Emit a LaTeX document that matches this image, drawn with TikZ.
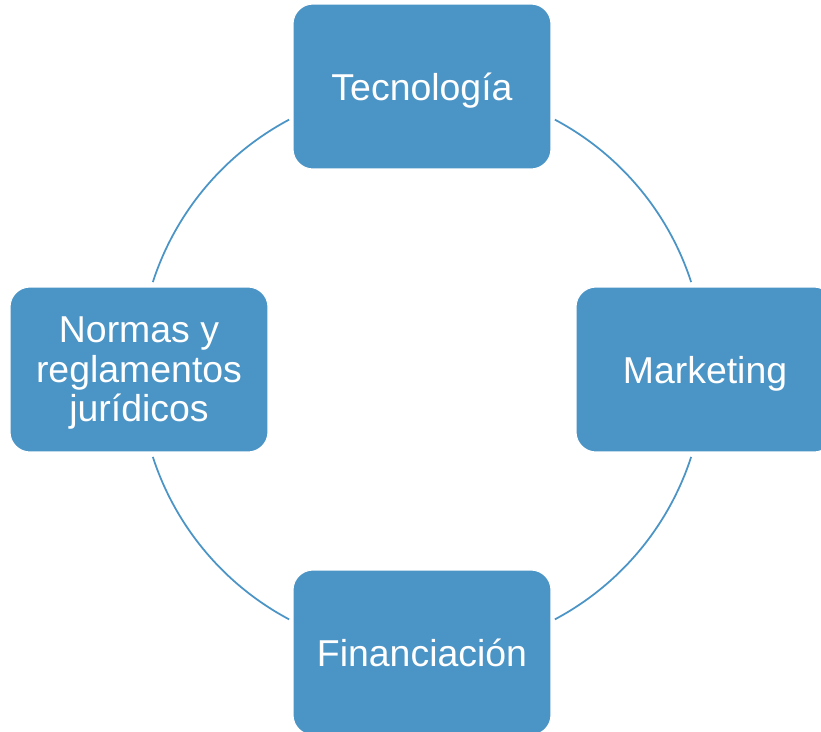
\documentclass[tikz,border=0pt]{standalone}
\usepackage{fontspec}
\setmainfont{Liberation Sans}
\definecolor{boxblue}{RGB}{74,148,198}

\begin{document}
\begin{tikzpicture}[x=0.02cm, y=0.02cm,
    area/.style={fill=boxblue, draw=white, line width=0.6pt, rounded corners=0.4cm,
        minimum width=5.16cm, minimum height=3.3cm, inner sep=0pt, text depth=0pt,
        text=white, align=center, font=\fontsize{21.3}{22.5}\selectfont},
    ring/.style={draw=boxblue, line width=1pt}]
    \useasboundingbox (-422,-361.5) rectangle (399,369.5);
    \node(tec)[area] at (0, 283) {Tecnología};
    \node(mkt)[area] at (283, 0) {Marketing};
    \node(fin)[area] at (0, -283) {Financiación};
    \node(nor)[area] at (-283, 0) {Normas y\\reglamentos\\jurídicos};

    \coordinate(c) at (0,0);
    \coordinate(tm) at (62:283);
    \coordinate(mf) at (-18:283);
    \coordinate(fn) at (-118:283);
    \coordinate(nt) at (162:283);
    \draw[ring] (tm) arc[start angle=62, end angle=18, radius=283];
    \draw[ring] (mf) arc[start angle=-18, end angle=-62, radius=283];
    \draw[ring] (fn) arc[start angle=-118, end angle=-162, radius=283];
    \draw[ring] (nt) arc[start angle=162, end angle=118, radius=283];

    \end{tikzpicture}
\end{document}
